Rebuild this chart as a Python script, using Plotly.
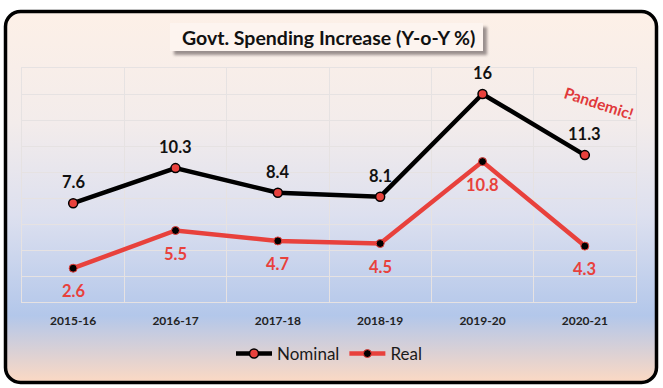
import base64
import plotly.graph_objects as go

years = ["2015-16", "2016-17", "2017-18", "2018-19", "2019-20", "2020-21"]
nominal = [7.6, 10.3, 8.4, 8.1, 16, 11.3]
real = [2.6, 5.5, 4.7, 4.5, 10.8, 4.3]
title_text = "Govt. Spending Increase (Y-o-Y %)"
note_text = "Pandemic!"

W, H = 663, 388
L, R, T, B = 22, 27, 68, 86
pw, ph = W - L - R, H - T - B

RED = "#e8413c"
FONT = "Lato"

svg = f'''<svg xmlns="http://www.w3.org/2000/svg" width="{W}" height="{H}" viewBox="0 0 {W} {H}">
<defs>
<linearGradient id="g" x1="0" y1="0" x2="0" y2="1">
<stop offset="0" stop-color="#fdf0e7"/>
<stop offset="0.30" stop-color="#f3eceb"/>
<stop offset="0.55" stop-color="#dde0ef"/>
<stop offset="0.82" stop-color="#b3c7ea"/>
<stop offset="1" stop-color="#fcd9c3"/>
</linearGradient>
<filter id="s" x="-10%" y="-50%" width="120%" height="200%">
<feGaussianBlur stdDeviation="1.6"/>
</filter>
</defs>
<rect x="5.5" y="11.5" width="651" height="371" rx="15" ry="15" fill="url(#g)" stroke="#000" stroke-width="3.5"/>
<rect x="174" y="27" width="313" height="28" fill="#7a7070" opacity="0.75" filter="url(#s)"/>
<rect x="170" y="23" width="313" height="28" fill="#fdf4ef"/>
</svg>'''
src = "data:image/svg+xml;base64," + base64.b64encode(svg.encode()).decode()

fig = go.Figure()
fig.add_trace(go.Scatter(
    x=years, y=nominal, name="Nominal", mode="lines+markers",
    line=dict(color="#000000", width=4.5),
    marker=dict(color=RED, size=9, line=dict(color="#000000", width=1.5)),
))
fig.add_trace(go.Scatter(
    x=years, y=real, name="Real", mode="lines+markers",
    line=dict(color=RED, width=4.5),
    marker=dict(color="#000000", size=8, line=dict(color=RED, width=1)),
))

annotations = []
for xv, yv in zip(years, nominal):
    annotations.append(dict(x=xv, y=yv, xref="x", yref="y", text=f"{yv:g}",
                            showarrow=False, yshift=21,
                            font=dict(family=FONT, size=16.5, color="#111111", weight="bold")))
for xv, yv in zip(years, real):
    annotations.append(dict(x=xv, y=yv, xref="x", yref="y", text=f"{yv:g}",
                            showarrow=False, yshift=-23,
                            font=dict(family=FONT, size=16.5, color=RED, weight="bold")))
annotations.append(dict(x=years[-1], y=15.3, xref="x", yref="y", text=note_text,
                        showarrow=False, xshift=14, textangle=18,
                        font=dict(family=FONT, size=15.5, color="#e0393b", weight="bold")))
annotations.append(dict(x=(328 - L) / pw, y=1 + (T - 37) / ph, xref="paper", yref="paper",
                        text=title_text, showarrow=False, xanchor="center", yanchor="middle",
                        font=dict(family=FONT, size=19.5, color="#111111", weight="bold")))

grid = "#e6e2e2"
fig.update_layout(
    width=W, height=H,
    margin=dict(l=L, r=R, t=T, b=B, pad=0),
    paper_bgcolor="#ffffff", plot_bgcolor="rgba(0,0,0,0)",
    font=dict(family=FONT, color="#222222"),
    showlegend=True,
    legend=dict(orientation="h", x=0.5, xanchor="center", y=-(354 - 302) / ph,
                yanchor="middle", bgcolor="rgba(0,0,0,0)",
                font=dict(family=FONT, size=17, color="#1a1a1a"),
                itemwidth=36, tracegroupgap=0),
    xaxis=dict(type="category", range=[-0.5, len(years) - 0.5], tickson="boundaries",
               showgrid=True, gridcolor=grid,
               gridwidth=1, showline=True, linecolor=grid, mirror=True, ticks="",
               tickfont=dict(family=FONT, size=12, color="#222222", weight="bold"),
               ticklabelstandoff=8, zeroline=False, fixedrange=True),
    yaxis=dict(range=[0, 18], dtick=2, showgrid=True, gridcolor=grid, gridwidth=1,
               showline=True, linecolor=grid, mirror=True, showticklabels=False,
               ticks="", zeroline=False, fixedrange=True),
    annotations=annotations,
    images=[dict(source=src, xref="paper", yref="paper", x=-L / pw, y=1 + T / ph,
                 sizex=W / pw, sizey=H / ph, xanchor="left", yanchor="top",
                 sizing="stretch", layer="below")],
)

fig.write_html("out.html", config={"displayModeBar": False},
               post_script="document.body.style.margin='0';document.body.style.overflow='hidden';")
